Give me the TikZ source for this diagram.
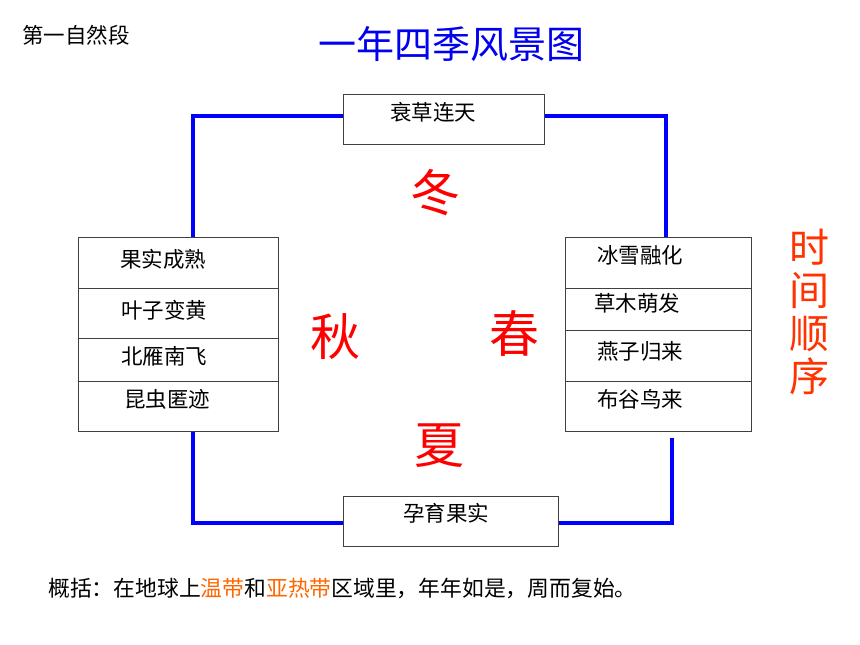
\documentclass[tikz,border=0pt]{standalone}
\usepackage{fontspec}
\setmainfont{Noto Sans CJK SC}
\definecolor{lineblue}{HTML}{0000FF}
\definecolor{titleblue}{HTML}{0000EE}
\definecolor{timered}{HTML}{FF3300}
\definecolor{seasonred}{HTML}{FF0000}
\definecolor{hiorange}{HTML}{FF6600}
\definecolor{boxgray}{HTML}{404040}
\tikzset{
  boxframe/.style={draw=boxgray, line width=1pt, fill=white, inner sep=0pt, anchor=north west},
  itemtxt/.style={inner sep=0pt, font=\fontsize{21.5}{24}\selectfont},
  season/.style={inner sep=0pt, text=seasonred, font=\fontsize{50}{55}\selectfont},
  blueline/.style={draw=lineblue, line width=3.6pt},
}
\begin{document}
\begin{tikzpicture}[x=1pt,y=-1pt]
\useasboundingbox (0,0) rectangle (860,645);
% coordinates for connector corners
\coordinate (ltop) at (193,237);
\coordinate (rtop) at (666,237);
\coordinate (lbot) at (193,431);
\coordinate (rbot) at (672,438);
% connectors first (under boxes)
\coordinate (tl) at (343,116);
\coordinate (tr) at (543,116);
\coordinate (bl) at (343,523);
\coordinate (br) at (558,523);
\draw[blueline] (tl) -| (ltop);
\draw[blueline] (tr) -| (rtop);
\draw[blueline] (bl) -| (lbot);
\draw[blueline] (br) -| (rbot);
% boxes
\node[boxframe, minimum width=201pt, minimum height=50pt] (topbox) at (342.5,94) {};
\node[boxframe, minimum width=215pt, minimum height=50pt] (botbox) at (343,495.5) {};
\node[boxframe, minimum width=200pt, minimum height=194pt] (leftbox) at (78,237) {};
\node[boxframe, minimum width=186pt, minimum height=194pt] (rightbox) at (565,237) {};
\draw[boxgray, line width=1pt] (78,288) coordinate (ld1) -- (278,288) coordinate (ld1e);
\draw[boxgray, line width=1pt] (78,338) coordinate (ld2) -- (278,338) coordinate (ld2e);
\draw[boxgray, line width=1pt] (78,381) coordinate (ld3) -- (278,381) coordinate (ld3e);
\draw[boxgray, line width=1pt] (565,288) coordinate (rd1) -- (751,288) coordinate (rd1e);
\draw[boxgray, line width=1pt] (565,330) coordinate (rd2) -- (751,330) coordinate (rd2e);
\draw[boxgray, line width=1pt] (565,381) coordinate (rd3) -- (751,381) coordinate (rd3e);
% box texts
\node[itemtxt] (t1) at (433,112) {衰草连天};
\node[itemtxt] (t2) at (446,513) {孕育果实};
\node[itemtxt] (l1) at (163,259) {果实成熟};
\node[itemtxt] (l2) at (164,310) {叶子变黄};
\node[itemtxt] (l3) at (164,356) {北雁南飞};
\node[itemtxt] (l4) at (167,399) {昆虫匿迹};
\node[itemtxt] (r1) at (640,255) {冰雪融化};
\node[itemtxt] (r2) at (637,303) {草木萌发};
\node[itemtxt] (r3) at (640,351) {燕子归来};
\node[itemtxt] (r4) at (640,399) {布谷鸟来};
% seasons
\node[season] (winter) at (435,193) {冬};
\node[season] (autumn) at (335,337) {秋};
\node[season] (spring) at (514,333) {春};
\node[season] (summer) at (439,446) {夏};
% headings
\node[inner sep=0pt, anchor=west, font=\fontsize{21.5}{24}\selectfont] (para) at (22,35) {第一自然段};
\node[inner sep=0pt, text=titleblue, font=\fontsize{38}{42}\selectfont] (title) at (451,44) {一年四季风景图};
% time order vertical
\node[inner sep=0pt, text=timered, font=\fontsize{40}{43}\selectfont, align=center] (timeord) at (809,312) {时\\间\\顺\\序};
% summary
\node[inner sep=0pt, anchor=west, font=\fontsize{21.8}{24}\selectfont] (summary) at (48,588) {概括：在地球上\textcolor{hiorange}{温带}和\textcolor{hiorange}{亚热带}区域里，年年如是，周而复始。};
\end{tikzpicture}
\end{document}
